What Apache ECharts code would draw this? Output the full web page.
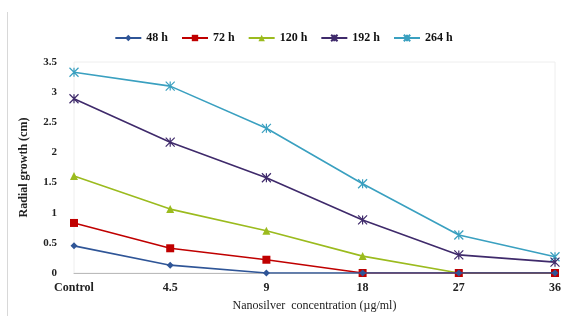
<!DOCTYPE html>
<html><head><meta charset="utf-8">
<script src="https://cdn.jsdelivr.net/npm/echarts@6/dist/echarts.min.js"></script>
<style>html,body{margin:0;padding:0;background:#fff}#c{width:567px;height:322px}</style>
</head><body><div id="c"></div>
<script>
const categories = ['Control', '4.5', '9', '18', '27', '36'];
const seriesNames = ['48 h', '72 h', '120 h', '192 h', '264 h'];
const s48 = [0.45, 0.13, 0, 0, 0, 0];
const s72 = [0.83, 0.41, 0.22, 0, 0, 0];
const s120 = [1.61, 1.06, 0.70, 0.28, 0, 0];
const s192 = [2.89, 2.17, 1.58, 0.88, 0.30, 0.18];
const s264 = [3.33, 3.10, 2.40, 1.48, 0.63, 0.27];
const yTicks = [0, 0.5, 1, 1.5, 2, 2.5, 3, 3.5];

const colors = ['#2F5597', '#C00000', '#9BBB1E', '#3F2A6B', '#3AA0C0'];
const symbols = ['diamond', 'rect', 'triangle',
  'path://M0,0L10,10M10,0L0,10M5,0L5,10',
  'path://M0,0L10,10M10,0L0,10M5,0L5,10'];
const sizes = [7, 8, 8, 9, 9];
const datas = [s48, s72, s120, s192, s264];
const font = '"Liberation Serif", "DejaVu Serif", serif';

const chart = echarts.init(document.getElementById('c'));
chart.setOption({
  animation: false,
  textStyle: {fontFamily: font},
  graphic: [{type: 'line', shape: {x1: 7.5, y1: 12, x2: 7.5, y2: 316}, style: {stroke: '#d8d8d8', lineWidth: 1}}],
  legend: {
    top: 27, left: 'center', itemGap: 13, itemWidth: 26, itemHeight: 8,
    textStyle: {fontFamily: font, fontWeight: 'bold', fontSize: 12, color: '#111'},
    data: seriesNames
  },
  grid: {left: 74, right: 12, top: 62, bottom: 49, show: true, borderColor: '#eeeeee', borderWidth: 1},
  xAxis: {
    type: 'category', data: categories, boundaryGap: false,
    axisLine: {lineStyle: {color: '#bbbbbb'}},
    axisTick: {show: false},
    axisLabel: {fontFamily: font, fontWeight: 'bold', fontSize: 12, color: '#222', margin: 9},
    name: 'Nanosilver  concentration (µg/ml)', nameLocation: 'middle', nameGap: 27,
    nameTextStyle: {fontFamily: font, fontSize: 12, color: '#222'}
  },
  yAxis: {
    type: 'value', min: 0, max: 3.5, interval: 0.5,
    axisLine: {show: false}, axisTick: {show: false},
    splitLine: {show: false},
    axisLabel: {fontFamily: font, fontWeight: 'bold', fontSize: 11, color: '#222', margin: 17,
      formatter: v => yTicks.includes(v) ? String(v) : ''},
    name: 'Radial growth (cm)', nameLocation: 'middle', nameGap: 44, nameRotate: 90,
    nameTextStyle: {fontFamily: font, fontWeight: 'bold', fontSize: 12, color: '#222'}
  },
  series: datas.map((d, i) => ({
    name: seriesNames[i], type: 'line', data: d,
    symbol: symbols[i], symbolSize: sizes[i], showSymbol: true,
    lineStyle: {color: colors[i], width: 1.6},
    itemStyle: {color: colors[i], borderColor: colors[i], borderWidth: i >= 3 ? 1.2 : 0},
    z: 2 + (4 - i)
  }))
});
</script></body></html>
